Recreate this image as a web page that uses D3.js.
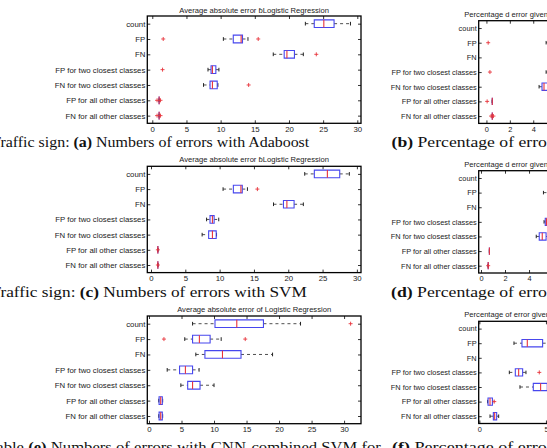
<!DOCTYPE html>
<html>
<head>
<meta charset="utf-8">
<script src="https://cdn.jsdelivr.net/npm/d3@7"></script>
<style>
  body { margin: 0; background: #fff; }
  svg { display: block; }
</style>
</head>
<body>
<svg id="chart" width="547" height="448"></svg>
<script>
// row labels shared by all six boxplots
const categories = ["count", "FP", "FN", "FP for two closest classes",
  "FN for two closest classes", "FP for all other classes", "FN for all other classes"];

// each row: [low whisker, q1, median, q3, high whisker]; null = nothing drawn
const statsA = [[22.4, 23.7, 25.1, 26.6, 29.0], [10.4, 11.85, 13.0, 13.2, 14.0], [17.7, 19.3, 19.7, 20.8, 22.1],
  [8.15, 8.6, 8.8, 9.3, 9.75], [7.5, 8.45, 8.8, 9.5, 9.6], [1.0, 1.0, 1.0, 1.0, 1.0], [1.0, 1.0, 1.0, 1.0, 1.0]];
const outliersA = [[], [1.6, 15.5], [24.0], [1.5], [14.1], [0.7, 1.2], [0.7, 1.2]];

const statsB = [null, [5.1, 6.0, 7.0, 8.2, 10.0], null,
  [5.1, 5.9, 6.6, 7.4, 8.8], [4.5, 4.75, 4.92, 5.5, 6.2], [0.5, 0.5, 0.5, 0.5, 0.5], [0.5, 0.5, 0.5, 0.5, 0.5]];
const outliersB = [[], [0.15], [], [0.3], [], [0.06], [0.4, 0.6]];

const statsC = [[22.4, 23.8, 25.7, 27.5, 28.9], [10.5, 12.0, 13.1, 13.3, 14.05], [17.85, 19.3, 19.8, 20.85, 22.2],
  [8.1, 8.6, 8.95, 9.2, 9.87], [7.45, 8.4, 8.95, 9.5, 9.55], [1.0, 1.0, 1.0, 1.0, 1.0], [1.0, 1.0, 1.0, 1.0, 1.0]];
const outliersC = [[], [15.5], [], [], [], [1.0], [1.0]];

const statsD = [null, [5.2, 6.1, 6.9, 7.8, 9.5], null,
  [5.25, 5.35, 5.45, 5.8, 6.2], [4.6, 4.85, 5.1, 5.42, 5.9], [0.7, 0.7, 0.7, 0.7, 0.7], [0.6, 0.6, 0.6, 0.6, 0.6]];
const outliersD = [[], [], [], [], [], [], [0.6]];

const statsE = [[6.7, 10.15, 13.5, 17.6, 23.3], [5.5, 6.7, 7.75, 9.4, 11.1], [7.2, 8.6, 11.3, 14.15, 19.0],
  [2.8, 4.7, 5.6, 6.7, 7.7], [4.9, 5.95, 6.7, 7.85, 10.0], [1.5, 1.55, 1.8, 2.05, 2.1], [1.5, 1.55, 1.8, 2.05, 2.1]];
const outliersE = [[31.0], [2.3, 14.8], [], [], [], [], []];

const statsF = [null, [2.6, 3.2, 3.6, 4.75, 5.8], null,
  [2.25, 2.7, 2.95, 3.25, 3.5], [3.05, 4.05, 4.6, 5.1, 6.0], [0.62, 0.65, 0.8, 0.98, 1.0], [0.8, 1.05, 1.15, 1.3, 1.45]];
const outliersF = [[], [], [], [4.5], [], [1.12], []];

const ticksLeft = [0, 5, 10, 15, 20, 25, 30];
const ticksPct = [0, 2, 4];
const ticksPctF = [0, 5];

const titleAvgBroken = "Average absolute error \u0253Logistic Regression";
const titleAvg = "Average absolute error of Logistic Regression";
const titlePctBroken = "Percentage d error given";
const titlePct = "Percentage of error given";

const svg = d3.select("#chart");
const sans = "'Liberation Sans', Arial, Helvetica, sans-serif";
const serif = "'Liberation Serif', 'Times New Roman', serif";
const blue = "#4747ee", red = "#e8333b";

const panels = [
  { stats: statsA, outs: outliersA, ticks: ticksLeft, dom: [-0.73, 30.54], left: 147.3, width: 213.7, top: 16, bottom: 123.3,
    title: titleAvgBroken, titleY: 12.6, fs: 7.8 },
  { stats: statsC, outs: outliersC, ticks: ticksLeft, dom: [-0.54, 30.6], left: 147.3, width: 213.7, top: 166.3, bottom: 272.6,
    title: titleAvgBroken, titleY: 162, fs: 7.8 },
  { stats: statsE, outs: outliersE, ticks: ticksLeft, dom: [-0.26, 32.6], left: 147.3, width: 213.7, top: 316, bottom: 423.7,
    title: titleAvg, titleY: 312, fs: 7.8 },
  { stats: statsB, outs: outliersB, ticks: ticksPct, dom: [-0.66, 17.6], left: 478.7, width: 213.7, top: 20.7, bottom: 123.4,
    title: titlePctBroken, titleX: 464.3, titleY: 17.4, fs: 7.4 },
  { stats: statsD, outs: outliersD, ticks: ticksPct, dom: [-0.19, 17.6], left: 478.7, width: 213.7, top: 170.7, bottom: 273,
    title: titlePctBroken, titleX: 464.3, titleY: 166.9, fs: 7.4 },
  { stats: statsF, outs: outliersF, ticks: ticksPctF, dom: [-0.05, 16], left: 478.7, width: 213.7, top: 321.3, bottom: 423.5,
    title: titlePct, titleX: 464.3, titleY: 317.2, fs: 7.4 }
];

function drawPanel(p) {
  const g = svg.append("g");
  const x = d3.scaleLinear().domain(p.dom).range([p.left, p.left + p.width]);
  const y = d3.scalePoint().domain(categories).range([p.top, p.bottom]).padding(0.5);
  const step = y.step();
  const hb = step * 0.25, hc = step * 0.12, hp = 2;

  // axes, ticks pointing inward like matlab
  const axes = [
    [d3.axisBottom(x).tickValues(p.ticks).tickSizeInner(-3).tickSizeOuter(0).tickPadding(3), `translate(0,${p.bottom})`],
    [d3.axisTop(x).tickValues(p.ticks).tickSizeInner(-3).tickSizeOuter(0).tickFormat(""), `translate(0,${p.top})`],
    [d3.axisLeft(y).tickSizeInner(-3).tickSizeOuter(0).tickPadding(2), `translate(${p.left},0)`],
    [d3.axisRight(y).tickSizeInner(-3).tickSizeOuter(0).tickFormat(""), `translate(${p.left + p.width},0)`]
  ];
  axes.forEach(([ax, tr]) => {
    const a = g.append("g").attr("transform", tr).call(ax);
    a.select(".domain").remove();
    a.selectAll("line").attr("stroke", "#000").attr("stroke-width", 0.8);
    a.selectAll("text").attr("font-family", sans).attr("font-size", p.fs).attr("fill", "#222");
  });

  g.append("rect").attr("x", p.left).attr("y", p.top)
    .attr("width", p.width).attr("height", p.bottom - p.top)
    .attr("fill", "none").attr("stroke", "#000").attr("stroke-width", 1.3);

  // boxes
  p.stats.forEach((s, i) => {
    if (!s) return;
    const cy = y(categories[i]);
    const [lo, q1, md, q3, hi] = s.map(x);
    const row = g.append("g");
    row.append("line").attr("x1", lo).attr("x2", q1).attr("y1", cy).attr("y2", cy)
      .attr("stroke", "#222").attr("stroke-width", 0.8).attr("stroke-dasharray", "3,3");
    row.append("line").attr("x1", q3).attr("x2", hi).attr("y1", cy).attr("y2", cy)
      .attr("stroke", "#222").attr("stroke-width", 0.8).attr("stroke-dasharray", "3,3");
    [lo, hi].forEach(v => row.append("line").attr("x1", v).attr("x2", v)
      .attr("y1", cy - hc).attr("y2", cy + hc).attr("stroke", "#222").attr("stroke-width", 1));
    row.append("path")
      .attr("d", `M${q1},${cy - hb}H${q3}V${cy + hb}H${q1}Z`)
      .attr("fill", "none").attr("stroke", blue).attr("stroke-width", 1.1);
    row.append("line").attr("x1", md).attr("x2", md).attr("y1", cy - hb).attr("y2", cy + hb)
      .attr("stroke", red).attr("stroke-width", 1.1);
  });

  // outliers as red plus signs
  p.outs.forEach((o, i) => {
    const cy = y(categories[i]);
    o.forEach(v => {
      g.append("path")
        .attr("d", `M${x(v) - hp},${cy}H${x(v) + hp}M${x(v)},${cy - hp}V${cy + hp}`)
        .attr("stroke", red).attr("stroke-width", 0.9);
    });
  });

  const t = g.append("text").attr("y", p.titleY)
    .attr("font-family", sans).attr("font-size", 7.6).attr("fill", "#222").text(p.title);
  if (p.titleX != null) t.attr("x", p.titleX);
  else t.attr("x", p.left + p.width / 2).attr("text-anchor", "middle");
}

panels.forEach(drawPanel);

// sub-figure captions, stretched sideways to match the latex font widths
const captions = [
  { pre: "Traffic sign: ", tag: "(a)", rest: " Numbers of errors with Adaboost", y: 146.6, skip: "T", fitFrom: 1, fitTo: 309.5 },
  { pre: "", tag: "(b)", rest: " Percentage of errors with Adaboost", y: 146.6, keep: " Percentage of erro", fitFrom: 391.5, fitTo: 547 },
  { pre: "Traffic sign: ", tag: "(c)", rest: " Numbers of errors with SVM", y: 296.6, skip: "T", fitFrom: 1, fitTo: 307 },
  { pre: "", tag: "(d)", rest: " Percentage of errors with SVM", y: 296.6, keep: " Percentage of erro", fitFrom: 391, fitTo: 547 },
  { pre: "Traffic sign table ", tag: "(e)", rest: " Numbers of errors with CNN-combined SVM for", y: 451.5, skip: "Traffic sign table ", fitFrom: 24, fitTo: 381 },
  { pre: "", tag: "(f)", rest: " Percentage of errors with CNN-combined SVM", y: 451.5, keep: " Percentage of erro", fitFrom: 392, fitTo: 547 }
];

function captionText(parent, pre, tag, rest) {
  const t = parent.append("text").attr("font-family", serif).attr("font-size", 14.3).attr("fill", "#111");
  t.append("tspan").text(pre);
  t.append("tspan").attr("font-weight", "bold").text(tag);
  t.append("tspan").text(rest);
  return t;
}

captions.forEach(c => {
  const g = svg.append("g");
  const t = captionText(g, c.pre, c.tag, c.rest);
  let offset, span;
  if (c.skip) {
    // width of the part that is cut off on the left, then the rest up to the end
    const m = captionText(svg, c.skip, "", "");
    offset = m.node().getComputedTextLength();
    m.remove();
    span = t.node().getComputedTextLength() - offset;
  } else {
    const m = captionText(svg, c.pre, c.tag, c.keep);
    offset = 0;
    span = m.node().getComputedTextLength();
    m.remove();
  }
  const k = (c.fitTo - c.fitFrom) / span;
  g.attr("transform", `translate(${c.fitFrom - offset * k},${c.y}) scale(${k},1)`);
});
</script>
</body>
</html>
